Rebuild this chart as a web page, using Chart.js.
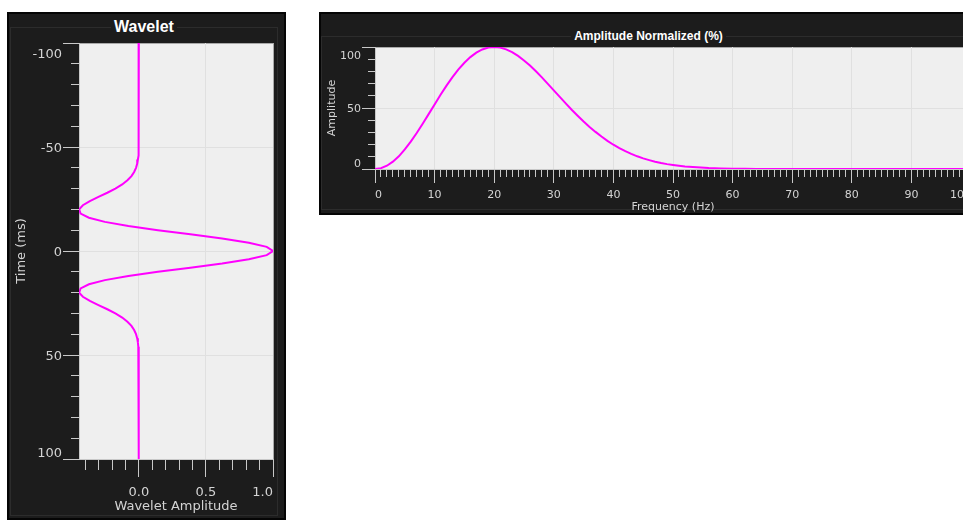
<!DOCTYPE html>
<html>
<head>
<meta charset="utf-8">
<script src="https://cdn.jsdelivr.net/npm/chart.js@4.4.1/dist/chart.umd.min.js"></script>
<style>
  html, body { margin: 0; padding: 0; background: #fff; overflow: hidden; width: 963px; height: 520px; }
  .panel { position: absolute; background: #1c1c1c; border: 2px solid #050505; box-sizing: border-box; }
  #wavePanel { left: 7px; top: 12px; width: 279px; height: 508px; }
  #specPanel { left: 319px; top: 12px; width: 680px; height: 203px; }
  fieldset { position: absolute; margin: 0; padding: 0; border: 1px solid #2c2c2c; box-sizing: border-box; }
  legend { margin: 0 auto; padding: 0 3px; color: #fff; font-family: "Liberation Sans", Arial, sans-serif; font-weight: bold; }
  #waveFrame { left: 1px; top: 4px; width: 268px; height: 498px; }
  #waveFrame legend { font-size: 16px; line-height: 18px; }
  #specFrame { left: 0; top: 15px; width: 655px; height: 181px; }
  #specFrame legend { font-size: 12px; line-height: 14px; }
  canvas { position: absolute; }
  #waveChart { left: 0; top: 16px; }
  #specChart { left: 0; top: 22px; }
</style>
</head>
<body>
<div class="panel" id="wavePanel">
  <fieldset id="waveFrame"><legend>Wavelet</legend></fieldset>
  <canvas id="waveChart" width="275" height="488"></canvas>
</div>
<div class="panel" id="specPanel">
  <fieldset id="specFrame"><legend>Amplitude Normalized (%)</legend></fieldset>
  <canvas id="specChart" width="660" height="176"></canvas>
</div>
<script>
// wavelet trace: time (ms) runs down the y axis, amplitude along x
const waveTime = [-100, -52, -50, -48, -46, -44, -42, -40, -38, -36, -34, -32, -30, -28, -26, -24, -22, -20,
  -18, -16, -14, -12, -10, -8, -6, -4, -2, 0, 2, 4, 6, 8, 10, 12, 14, 16, 18, 20, 22, 24, 26, 28, 30,
  32, 34, 36, 38, 40, 42, 44, 46, 48, 50, 52, 100];
const waveAmp = [0, 0, -0.001, -0.002, -0.004, -0.007, -0.012, -0.021, -0.035, -0.055, -0.085, -0.124, -0.175, -0.235, -0.301, -0.365, -0.417, -0.445,
  -0.434, -0.372, -0.253, -0.078, 0.142, 0.384, 0.621, 0.820, 0.953, 1.000, 0.953, 0.820, 0.621, 0.384, 0.142, -0.078, -0.253, -0.372, -0.434, -0.445, -0.417, -0.365, -0.301, -0.235, -0.175,
  -0.124, -0.085, -0.055, -0.035, -0.021, -0.012, -0.007, -0.004, -0.002, -0.001, 0, 0];

// amplitude spectrum, normalised to 100
const freqHz = [0, 1, 2, 3, 4, 5, 6, 7, 8, 9, 10, 11, 12, 13, 14, 15, 16, 17, 18, 19, 20,
  21, 22, 23, 24, 25, 26, 27, 28, 29, 30, 31, 32, 33, 34, 35, 36, 37, 38, 39, 40,
  41, 42, 43, 44, 45, 46, 47, 48, 49, 50, 52, 54, 56, 58, 60, 62, 64, 70, 80, 90, 100];
const specAmp = [0, 0.7, 2.7, 6.0, 10.4, 16.0, 22.4, 29.5, 37.1, 45.0, 52.9, 60.8, 68.3, 75.3, 81.6, 87.1, 91.7, 95.4, 98.0, 99.5, 100,
  99.5, 98.1, 95.8, 92.7, 89.0, 84.8, 80.1, 75.1, 69.8, 64.5, 59.1, 53.8, 48.6, 43.7, 38.9, 34.5, 30.4, 26.6, 23.1, 19.9,
  17.1, 14.6, 12.4, 10.4, 8.7, 7.3, 6.0, 4.9, 4.0, 3.3, 2.1, 1.4, 0.8, 0.5, 0.3, 0.2, 0.1, 0, 0, 0, 0];

// labelled (major) ticks
const waveTimeMajor = [-100, -50, 0, 50, 100];
const waveAmpMajor = [0, 0.5, 1];
const freqMajor = [0, 10, 20, 30, 40, 50, 60, 70, 80, 90, 100];
const specMajor = [0, 50, 100];

const TEXT = '#d4d4d4';
const TICK = '#c8c8c8';

function steps(from, to, step) {
    const out = [];
    const n = Math.round((to - from) / step);
    for (let i = 0; i <= n; i++) out.push(Math.round((from + i * step) * 1000) / 1000);
    return out;
}

// grey plot area with a thin frame
const plotBackground = {
    id: 'plotBackground',
    beforeDraw(chart) {
        const { ctx, chartArea: a } = chart;
        ctx.save();
        ctx.fillStyle = '#efefef';
        ctx.fillRect(a.left, a.top, a.width, a.height);
        ctx.strokeStyle = '#a9a9a9';
        ctx.lineWidth = 1;
        ctx.strokeRect(a.left + 0.5, a.top + 0.5, a.width, a.height);
        ctx.restore();
    }
};

// one axis: long ticks at labelled values, short dashed-off ticks elsewhere
function axis(o) {
    const vertical = o.position === 'left';
    const isMajor = v => o.major.includes(v);
    const isEdge = v => v === o.min || v === o.max;
    return {
        type: 'linear',
        position: o.position,
        min: o.min,
        max: o.max,
        reverse: !!o.reverse,
        afterBuildTicks: s => { s.ticks = o.ticks.map(v => ({ value: v })); },
        afterFit: s => {
            if (vertical) s.width = o.size; else s.height = o.size;
            s.paddingTop = s.paddingBottom = s.paddingLeft = s.paddingRight = 0;
        },
        border: { display: true, color: TICK, width: 1 },
        grid: {
            drawTicks: true,
            tickLength: o.tickLen,
            tickColor: TICK,
            tickWidth: 1,
            lineWidth: 1,
            color: c => (c.tick && isMajor(c.tick.value) && !isEdge(c.tick.value)) ? '#e0e0e0' : 'rgba(0,0,0,0)',
            tickBorderDash: c => {
                if (c.tick && isMajor(c.tick.value)) return [];
                return vertical ? [0, o.tickLen - o.minorLen, o.minorLen, 100] : [o.minorLen, 100];
            }
        },
        ticks: {
            autoSkip: false,
            maxRotation: 0,
            minRotation: 0,
            color: TEXT,
            padding: o.labelPad,
            labelOffset: o.labelOffset || 0,
            font: c => ({
                family: 'DejaVu Sans',
                size: o.fontSize,
                lineHeight: (c.tick && o.lineHeights[c.tick.value]) || 1.2
            }),
            callback: v => {
                if (!isMajor(v)) return '';
                let txt = o.format(v);
                // edge labels sit inside the axis span
                if (v === o.startAligned) txt = ' '.repeat(o.padStart) + txt;
                if (v === o.endAligned) txt = txt + ' '.repeat(o.padEnd);
                if (v === o.shiftDown) return ['', txt];
                if (v === o.shiftUp) return [txt, ''];
                return txt;
            }
        },
        title: {
            display: true,
            text: o.title,
            color: TEXT,
            font: { family: 'DejaVu Sans', size: o.fontSize, lineHeight: o.titleLine || 1.2 },
            padding: o.titlePad
        }
    };
}

const baseOptions = {
    responsive: false,
    maintainAspectRatio: false,
    animation: false,
    events: [],
    plugins: { legend: { display: false }, tooltip: { enabled: false } }
};

new Chart(document.getElementById('waveChart'), {
    type: 'scatter',
    data: {
        datasets: [{
            data: waveTime.map((t, i) => ({ x: waveAmp[i], y: t })),
            showLine: true,
            borderColor: '#ff00ff',
            borderWidth: 2,
            pointRadius: 0,
            fill: false
        }]
    },
    options: {
        ...baseOptions,
        layout: { padding: { top: 13, right: 11, left: 0, bottom: 0 } },
        scales: {
            x: axis({
                position: 'bottom', min: -0.446, max: 1.0,
                ticks: steps(-0.4, 1.0, 0.1), major: waveAmpMajor,
                size: 59, tickLen: 18, minorLen: 10, labelPad: 8, fontSize: 13,
                format: v => v.toFixed(1), lineHeights: {},
                endAligned: 1, padEnd: 5,
                title: 'Wavelet Amplitude', titlePad: { top: 0, bottom: 4 }
            }),
            y: axis({
                position: 'left', min: -100, max: 100, reverse: true,
                ticks: steps(-100, 100, 10), major: waveTimeMajor,
                size: 70, tickLen: 16, minorLen: 8, labelPad: 1, fontSize: 13, labelOffset: 1.5,
                format: v => String(v), shiftDown: -100, shiftUp: 100,
                lineHeights: { '-100': '20px', '100': '14px' },
                title: 'Time (ms)', titlePad: { top: 5, bottom: 0 }
            })
        }
    },
    plugins: [plotBackground]
});

new Chart(document.getElementById('specChart'), {
    type: 'scatter',
    data: {
        datasets: [{
            data: freqHz.map((f, i) => ({ x: f, y: specAmp[i] })),
            showLine: true,
            borderColor: '#ff00ff',
            borderWidth: 2,
            pointRadius: 0,
            fill: false
        }]
    },
    options: {
        ...baseOptions,
        layout: { padding: { top: 11, right: 10, left: 0, bottom: 0 } },
        scales: {
            x: axis({
                position: 'bottom', min: 0, max: 100,
                ticks: steps(0, 100, 1), major: freqMajor,
                size: 43, tickLen: 14, minorLen: 7, labelPad: 6, fontSize: 11,
                format: v => String(v), lineHeights: {},
                startAligned: 0, padStart: 2, endAligned: 100, padEnd: 6,
                title: 'Frequency (Hz)', titleLine: 0.8, titlePad: { top: 0, bottom: 0 }
            }),
            y: axis({
                position: 'left', min: 0, max: 100,
                ticks: steps(0, 100, 10), major: specMajor,
                size: 54, tickLen: 13, minorLen: 7, labelPad: 1, fontSize: 11, labelOffset: 1.5,
                format: v => String(v), shiftDown: 100, shiftUp: 0,
                lineHeights: { '100': '15.4px', '0': '13px' },
                title: 'Amplitude', titlePad: { top: 5, bottom: 0 }
            })
        }
    },
    plugins: [plotBackground]
});
</script>
</body>
</html>
